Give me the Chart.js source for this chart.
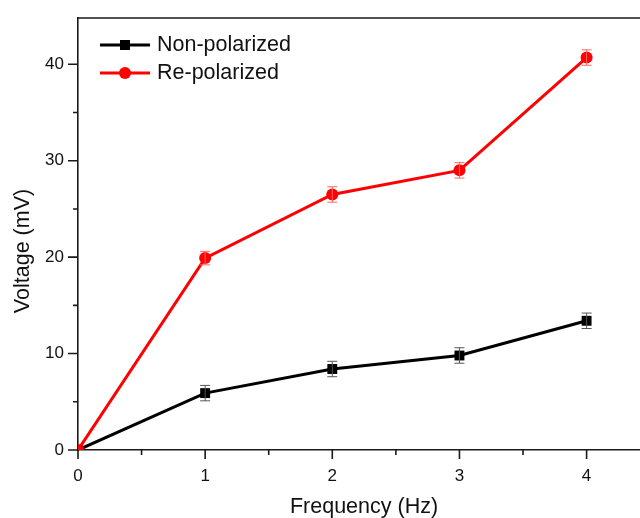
<!DOCTYPE html>
<html>
<head>
<meta charset="utf-8">
<script src="https://cdn.jsdelivr.net/npm/chart.js@4/dist/chart.umd.min.js"></script>
<style>
  html, body { margin: 0; padding: 0; background: #fff; }
  #wrap { width: 640px; height: 518px; }
</style>
</head>
<body>
<div id="wrap"><canvas id="chart"></canvas></div>
<script>
// values
const frequency       = [0, 1, 2, 3, 4]
const nonPolarized    = [0, 5.9, 8.4, 9.8, 13.4]
const nonPolarizedErr = [0, 0.8, 0.8, 0.8, 0.8]
const rePolarized     = [0, 19.9, 26.5, 29.0, 40.7]
const rePolarizedErr  = [0, 0.7, 0.8, 0.8, 0.8]

const xMajor = [0, 1, 2, 3, 4]
const xMinor = [0.5, 1.5, 2.5, 3.5]
const yMajor = [0, 10, 20, 30, 40]
const yMinor = [5, 15, 25, 35]

const seriesNames = ['Non-polarized', 'Re-polarized']
const xTitle = 'Frequency (Hz)'
const yTitle = 'Voltage (mV)'

const FONT = '"Liberation Sans", Arial, sans-serif'

const points = (ys) => frequency.map((x, i) => ({x: x, y: ys[i]}))

// outward major/minor ticks, top border, axis titles
const axisTicks = {
  id: 'axisTicks',
  afterDraw(chart) {
    const {ctx, chartArea, scales} = chart
    ctx.save()
    ctx.strokeStyle = '#1a1a1a'
    ctx.lineWidth = 1.6
    ctx.beginPath()
    xMajor.concat(xMinor).forEach(v => {
      const px = scales.x.getPixelForValue(v)
      const len = xMajor.includes(v) ? 9 : 5
      ctx.moveTo(px, chartArea.bottom)
      ctx.lineTo(px, chartArea.bottom + len)
    })
    yMajor.concat(yMinor).forEach(v => {
      const py = scales.y.getPixelForValue(v)
      const len = yMajor.includes(v) ? 10 : 5
      ctx.moveTo(chartArea.left, py)
      ctx.lineTo(chartArea.left - len, py)
    })
    ctx.moveTo(chartArea.left - 1, chartArea.top)
    ctx.lineTo(chartArea.right, chartArea.top)
    ctx.stroke()

    ctx.fillStyle = '#111'
    ctx.font = '21.5px ' + FONT
    ctx.textAlign = 'center'
    ctx.textBaseline = 'middle'
    ctx.fillText(xTitle, 364, 507)
    ctx.translate(23, 251)
    ctx.rotate(-Math.PI / 2)
    ctx.fillText(yTitle, 0, 0)
    ctx.restore()
  }
}

// vertical error bars with caps
const errorBars = {
  id: 'errorBars',
  afterDatasetsDraw(chart) {
    const {ctx, scales} = chart
    const sets = [
      {ys: nonPolarized, err: nonPolarizedErr, color: '#555555'},
      {ys: rePolarized,  err: rePolarizedErr,  color: '#ff6666'}
    ]
    ctx.save()
    ctx.lineWidth = 1
    sets.forEach(s => {
      ctx.strokeStyle = s.color
      ctx.beginPath()
      frequency.forEach((x, i) => {
        if (!s.err[i]) return
        const px = scales.x.getPixelForValue(x)
        const top = scales.y.getPixelForValue(s.ys[i] + s.err[i])
        const bot = scales.y.getPixelForValue(s.ys[i] - s.err[i])
        ctx.moveTo(px, top); ctx.lineTo(px, bot)
        ctx.moveTo(px - 5, top); ctx.lineTo(px + 5, top)
        ctx.moveTo(px - 5, bot); ctx.lineTo(px + 5, bot)
      })
      ctx.stroke()
    })
    ctx.restore()
  }
}

// legend inside the plot, top left
const insideLegend = {
  id: 'insideLegend',
  afterDraw(chart) {
    const {ctx} = chart
    ctx.save()
    ctx.font = '21.5px ' + FONT
    ctx.textBaseline = 'middle'
    ctx.textAlign = 'left'
    chart.data.datasets.forEach((ds, i) => {
      const y = 45 + i * 28
      ctx.strokeStyle = ds.borderColor
      ctx.lineWidth = 3
      ctx.beginPath()
      ctx.moveTo(100, y); ctx.lineTo(150, y)
      ctx.stroke()
      ctx.fillStyle = ds.borderColor
      if (ds.pointStyle === 'rect') {
        ctx.fillRect(120, y - 5, 10, 10)
      } else {
        ctx.beginPath()
        ctx.arc(125, y, 6, 0, Math.PI * 2)
        ctx.fill()
      }
      ctx.fillStyle = '#111'
      ctx.fillText(seriesNames[i], 157, y)
    })
    ctx.restore()
  }
}

const ctx = document.getElementById('chart').getContext('2d')

new Chart(ctx, {
  type: 'line',
  data: {
    datasets: [
      {
        label: seriesNames[0],
        data: points(nonPolarized),
        borderColor: '#000000',
        backgroundColor: '#000000',
        borderWidth: 3,
        pointStyle: 'rect',
        pointRadius: 7,
        pointBorderWidth: 0,
        order: 1
      },
      {
        label: seriesNames[1],
        data: points(rePolarized),
        borderColor: '#ff0000',
        backgroundColor: '#ff0000',
        borderWidth: 3,
        pointStyle: 'circle',
        pointRadius: 6,
        pointBorderWidth: 0,
        order: 0
      }
    ]
  },
  options: {
    responsive: true,
    maintainAspectRatio: false,
    animation: false,
    layout: {autoPadding: false, padding: {top: 18, right: 0, left: 0, bottom: 0}},
    plugins: {legend: {display: false}, tooltip: {enabled: false}},
    scales: {
      x: {
        type: 'linear',
        min: 0,
        max: 4.42,
        grid: {display: false},
        border: {display: true, color: '#1a1a1a', width: 1.6},
        afterBuildTicks: (scale) => { scale.ticks = xMajor.map(v => ({value: v})) },
        afterFit: (scale) => {
          scale.height = 68
          scale.paddingLeft = 0
          scale.paddingRight = 0
        },
        ticks: {
          autoSkip: false,
          maxRotation: 0,
          padding: 8,
          color: '#111',
          font: {family: FONT, size: 17},
          callback: (v) => String(v)
        }
      },
      y: {
        type: 'linear',
        min: 0,
        max: 44.8,
        grid: {display: false},
        border: {display: true, color: '#1a1a1a', width: 1.6},
        afterBuildTicks: (scale) => { scale.ticks = yMajor.map(v => ({value: v})) },
        afterFit: (scale) => {
          scale.width = 78
          scale.paddingTop = 0
          scale.paddingBottom = 0
        },
        ticks: {
          autoSkip: false,
          padding: 6,
          color: '#111',
          font: {family: FONT, size: 17},
          callback: (v) => String(v)
        }
      }
    }
  },
  plugins: [errorBars, axisTicks, insideLegend]
})
</script>
</body>
</html>
